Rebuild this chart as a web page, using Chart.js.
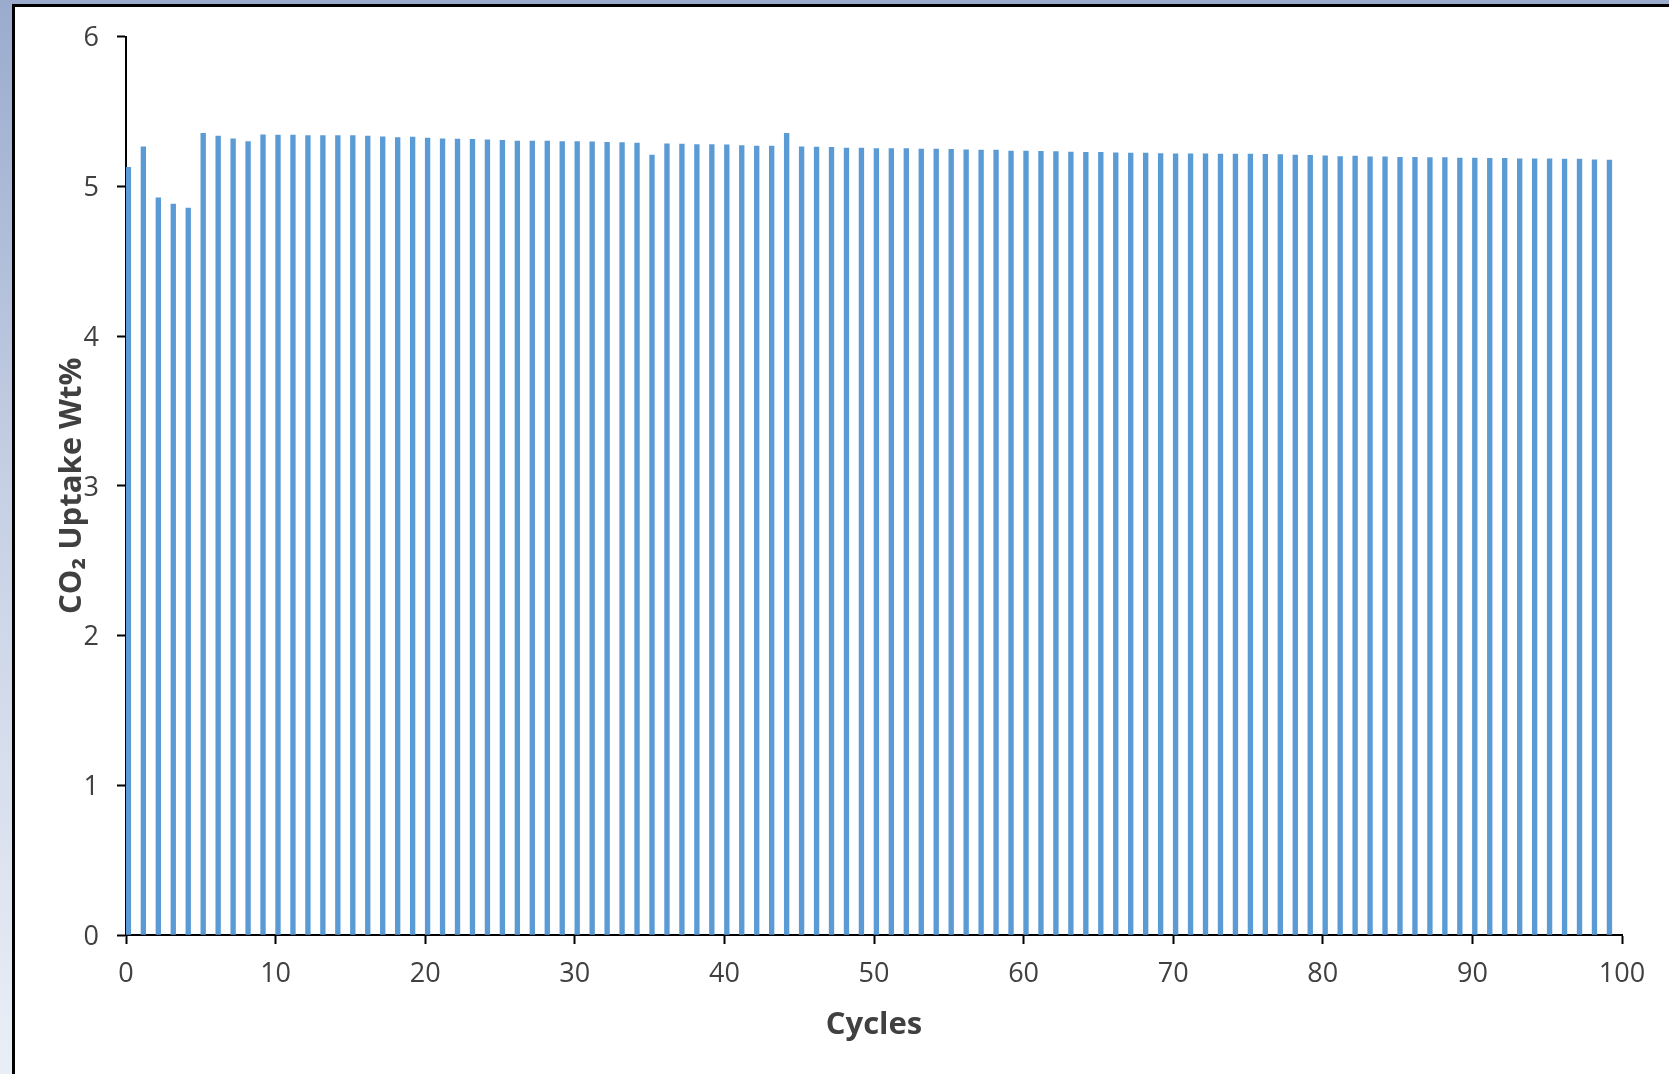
<!DOCTYPE html>
<html>
<head>
<meta charset="utf-8">
<title>CO2 Uptake over Cycles</title>
<script src="https://cdn.jsdelivr.net/npm/chart.js@4.4.1/dist/chart.umd.min.js"></script>
<style>
  html, body { margin: 0; padding: 0; width: 1669px; height: 1074px; overflow: hidden; }
  body { background: linear-gradient(to bottom, #9aabce 0%, #c6d0e4 45%, #eaeef6 100%); position: relative; }
  #panel { position: absolute; left: 12px; top: 4px; right: 0; bottom: 0; background: #fff;
           border-left: 3px solid #000; border-top: 3px solid #000; }
  #chart { position: absolute; left: 0; top: 0; }
</style>
</head>
<body>
<div id="panel"></div>
<canvas id="chart" width="1669" height="1074"></canvas>
<script>
// CO2 uptake (wt%) measured for each adsorption/desorption cycle
const cycles = Array.from({ length: 100 }, (_, i) => i);
const uptake = [
  5.127, 5.265, 4.924, 4.882, 4.855, 5.354, 5.336, 5.318, 5.299, 5.345,
  5.343, 5.343, 5.339, 5.339, 5.339, 5.339, 5.336, 5.332, 5.327, 5.330,
  5.323, 5.318, 5.316, 5.314, 5.312, 5.307, 5.303, 5.303, 5.303, 5.299,
  5.299, 5.297, 5.294, 5.292, 5.290, 5.210, 5.285, 5.283, 5.279, 5.279,
  5.277, 5.272, 5.270, 5.270, 5.354, 5.265, 5.263, 5.261, 5.256, 5.256,
  5.252, 5.252, 5.252, 5.250, 5.250, 5.247, 5.245, 5.243, 5.243, 5.236,
  5.236, 5.234, 5.232, 5.230, 5.227, 5.227, 5.225, 5.223, 5.223, 5.220,
  5.218, 5.218, 5.218, 5.216, 5.216, 5.216, 5.214, 5.212, 5.210, 5.208,
  5.205, 5.200, 5.203, 5.198, 5.198, 5.194, 5.194, 5.192, 5.192, 5.190,
  5.190, 5.187, 5.187, 5.185, 5.185, 5.185, 5.183, 5.183, 5.178, 5.176
];
const xTicks = [0, 10, 20, 30, 40, 50, 60, 70, 80, 90, 100];
const yTicks = [0, 1, 2, 3, 4, 5, 6];
const xTitle = 'Cycles';
const yTitle = 'CO\u2082 Uptake Wt%';

// each column sits just to the right of its cycle mark
const BAR_ANCHOR = 0.16;
const BAR_COLOR = '#5b9bd5';
const TEXT_COLOR = '#404040';
const FONT = '"Open Sans", Lato, "DejaVu Sans", sans-serif';

const points = cycles.map((c, i) => ({ x: c + BAR_ANCHOR, y: uptake[i] }));

new Chart(document.getElementById('chart'), {
  type: 'bar',
  data: {
    datasets: [{
      data: points,
      backgroundColor: BAR_COLOR,
      borderWidth: 0,
      barThickness: 4.7
    }]
  },
  options: {
    responsive: false,
    animation: false,
    layout: { padding: { top: 36.7, right: 47, left: 0, bottom: 0 } },
    plugins: { legend: { display: false }, tooltip: { enabled: false } },
    scales: {
      x: {
        type: 'linear',
        offset: false,
        min: xTicks[0],
        max: xTicks[xTicks.length - 1],
        afterBuildTicks: s => { s.ticks = xTicks.map(v => ({ value: v })); },
        afterFit: s => { s.height = 139; },
        border: { display: true, color: '#000', width: 2 },
        grid: { display: true, offset: false, drawOnChartArea: false, drawTicks: true, tickLength: 9, tickWidth: 2, tickColor: '#000' },
        ticks: { color: TEXT_COLOR, font: { family: FONT, size: 27 }, padding: 14, maxRotation: 0, autoSkip: false },
        title: { display: true, text: xTitle, color: TEXT_COLOR, font: { family: FONT, size: 31, weight: 'bold' },
                 padding: { top: 0, bottom: 30.4 } }
      },
      y: {
        type: 'linear',
        min: yTicks[0],
        max: yTicks[yTicks.length - 1],
        afterBuildTicks: s => { s.ticks = yTicks.map(v => ({ value: v })); },
        afterFit: s => { s.width = 126; },
        border: { display: true, color: '#000', width: 2 },
        grid: { display: true, drawOnChartArea: false, drawTicks: true, tickLength: 9, tickWidth: 2, tickColor: '#000' },
        ticks: { color: TEXT_COLOR, font: { family: FONT, size: 27 }, padding: 18, labelOffset: 2 },
        title: { display: true, text: yTitle, color: TEXT_COLOR, font: { family: FONT, size: 31, weight: 'bold' },
                 padding: { top: 53.8, bottom: 0 } }
      }
    }
  }
});
</script>
</body>
</html>
